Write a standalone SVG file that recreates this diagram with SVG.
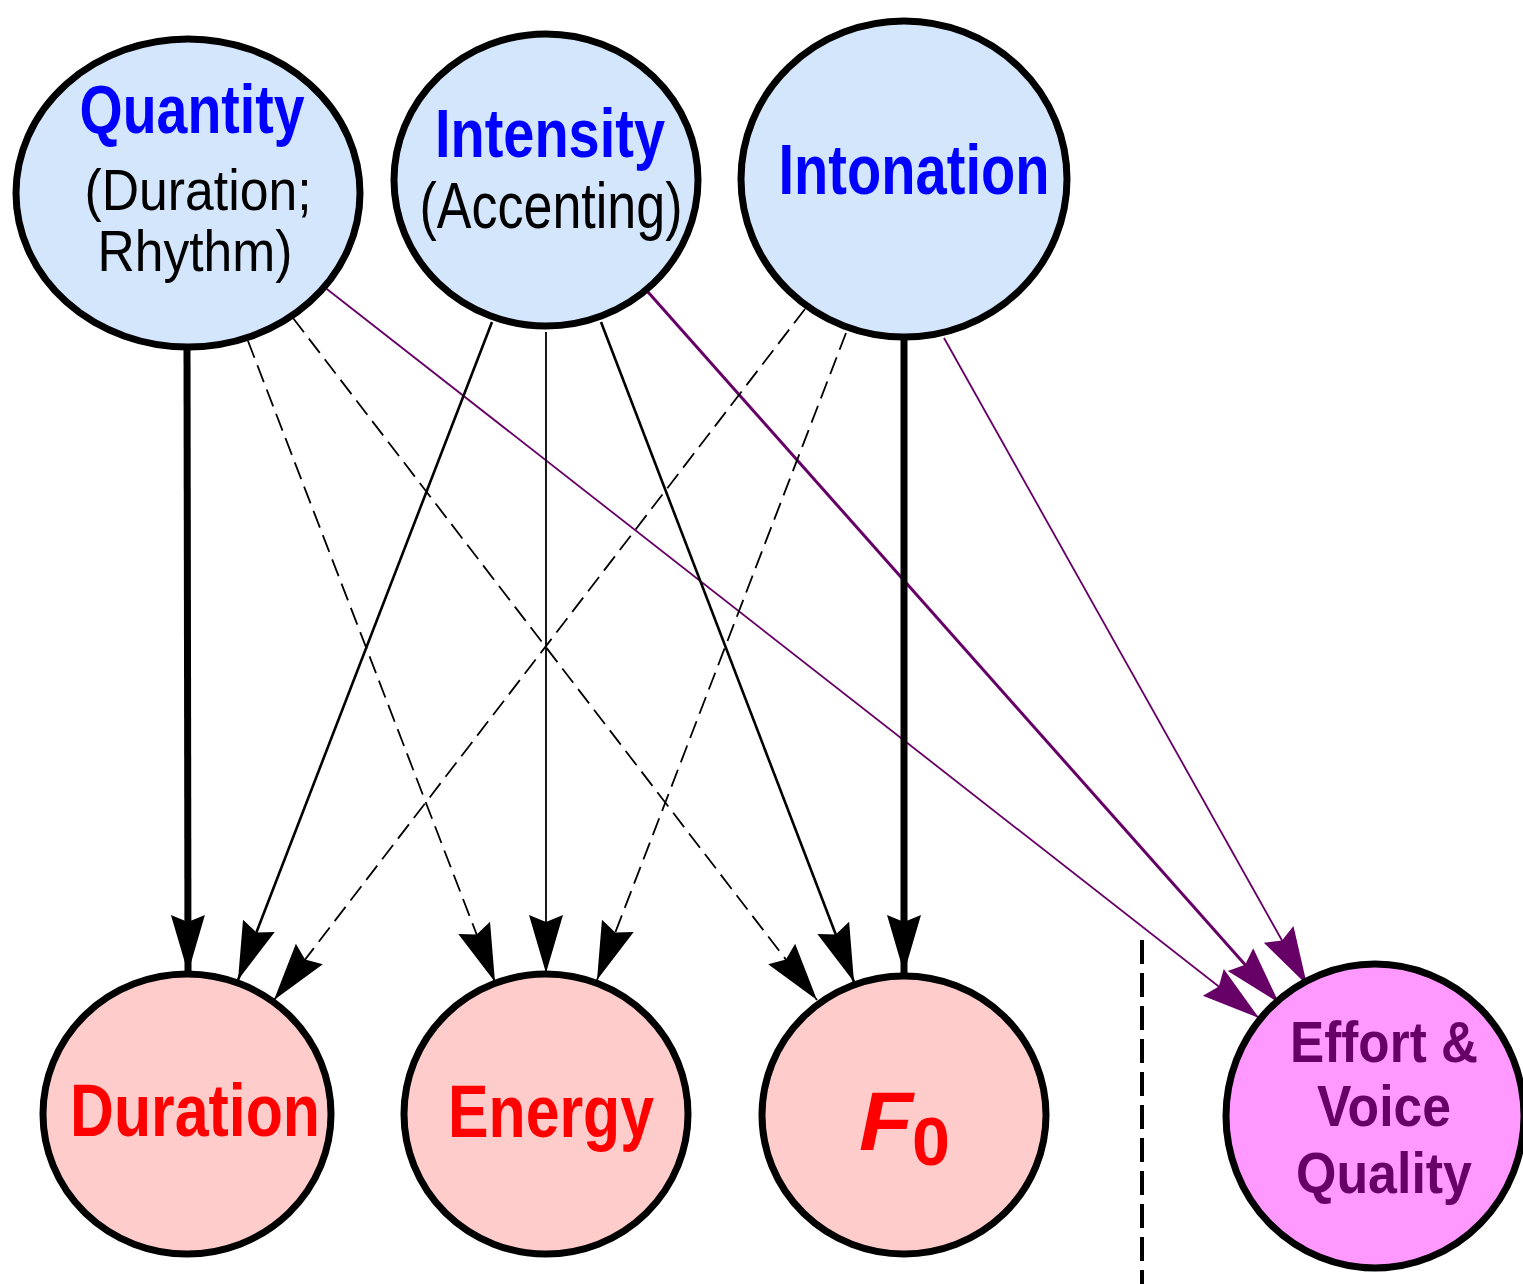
<svg xmlns="http://www.w3.org/2000/svg" width="1523" height="1284" viewBox="0 0 1523 1284">
<style>
.node{stroke:#000;stroke-width:7}
.top{fill:#d4e6fc}
.bot{fill:#ffcccc}
.eff{fill:#ff99ff}
text{font-family:"Liberation Sans Narrow","Liberation Sans",Arial,sans-serif;text-anchor:middle}
.b{font-weight:bold}
.blue{fill:#0000ff}
.red{fill:#ff0000}
.pur{fill:#660066}
.blk{fill:#000}
.e{fill:none;stroke:#000}
.p{fill:none;stroke:#660066}
.dash{stroke-dasharray:18 8}
</style>
<defs>
<marker id="ak" markerUnits="userSpaceOnUse" viewBox="-60 -18 60 36" refX="0" refY="0" markerWidth="60" markerHeight="36" orient="auto">
<path d="M0,0 L-58,-17 L-51,0 L-58,17 Z" fill="#000"/>
</marker>
<marker id="ap" markerUnits="userSpaceOnUse" viewBox="-60 -18 60 36" refX="0" refY="0" markerWidth="60" markerHeight="36" orient="auto">
<path d="M0,0 L-58,-17 L-51,0 L-58,17 Z" fill="#660066"/>
</marker>
</defs>
<rect width="1523" height="1284" fill="#fff"/>
<g id="connectors">
<line class="e" x1="187" y1="343" x2="188" y2="973" stroke-width="7" marker-end="url(#ak)"/>
<line class="e dash" x1="248" y1="341" x2="495" y2="982" stroke-width="1.8" marker-end="url(#ak)"/>
<line class="e dash" x1="293" y1="318" x2="817" y2="1000" stroke-width="1.8" marker-end="url(#ak)"/>
<line class="p" x1="323" y1="286" x2="1259" y2="1018" stroke-width="1.8" marker-end="url(#ap)"/>
<line class="e" x1="492" y1="322" x2="238" y2="980" stroke-width="2.6" marker-end="url(#ak)"/>
<line class="e" x1="546" y1="332" x2="546" y2="973" stroke-width="1.8" marker-end="url(#ak)"/>
<line class="e" x1="601" y1="322" x2="854" y2="982" stroke-width="2.6" marker-end="url(#ak)"/>
<line class="p" x1="648" y1="292" x2="1279" y2="1003" stroke-width="3" marker-end="url(#ap)"/>
<line class="e dash" x1="805" y1="309" x2="274" y2="1000" stroke-width="1.8" marker-end="url(#ak)"/>
<line class="e dash" x1="846" y1="333" x2="597" y2="980" stroke-width="1.8" marker-end="url(#ak)"/>
<line class="e" x1="904" y1="335" x2="904" y2="973" stroke-width="7" marker-end="url(#ak)"/>
<line class="p" x1="944" y1="338" x2="1307" y2="985" stroke-width="1.8" marker-end="url(#ap)"/>
<line class="e" x1="1142" y1="940" x2="1142" y2="1284" stroke-width="4" stroke-dasharray="24 9"/>
</g>
<g id="quantity">
<ellipse class="node top" cx="188" cy="193" rx="172" ry="154"/>
<text class="b blue" x="192" y="133" font-size="68" textLength="225" lengthAdjust="spacingAndGlyphs">Quantity</text>
<text class="blk" x="198" y="210" font-size="58" textLength="227" lengthAdjust="spacingAndGlyphs">(Duration;</text>
<text class="blk" x="195" y="271" font-size="58" textLength="195" lengthAdjust="spacingAndGlyphs">Rhythm)</text>
</g>
<g id="intensity">
<ellipse class="node top" cx="546" cy="180" rx="152" ry="146"/>
<text class="b blue" x="550" y="157" font-size="69" textLength="230" lengthAdjust="spacingAndGlyphs">Intensity</text>
<text class="blk" x="551" y="228" font-size="64" textLength="263" lengthAdjust="spacingAndGlyphs">(Accenting)</text>
</g>
<g id="intonation">
<ellipse class="node top" cx="904" cy="179" rx="163" ry="158"/>
<text class="b blue" x="914" y="194" font-size="70" textLength="271" lengthAdjust="spacingAndGlyphs">Intonation</text>
</g>
<g id="duration">
<ellipse class="node bot" cx="187" cy="1114" rx="144" ry="140"/>
<text class="b red" x="195" y="1136" font-size="74" textLength="250" lengthAdjust="spacingAndGlyphs">Duration</text>
</g>
<g id="energy">
<ellipse class="node bot" cx="546" cy="1114" rx="142" ry="140"/>
<text class="b red" x="551" y="1137" font-size="74" textLength="206" lengthAdjust="spacingAndGlyphs">Energy</text>
</g>
<g id="f0">
<ellipse class="node bot" cx="904" cy="1115" rx="142" ry="139"/>
<text class="b red" x="886" y="1150" font-size="84" font-style="italic" textLength="54" lengthAdjust="spacingAndGlyphs">F</text>
<text class="b red" x="931" y="1165" font-size="68" textLength="38" lengthAdjust="spacingAndGlyphs">0</text>
</g>
<g id="effort">
<ellipse class="node eff" cx="1375" cy="1116" rx="149" ry="152"/>
<text class="b pur" x="1384" y="1062" font-size="58" textLength="188" lengthAdjust="spacingAndGlyphs">Effort &amp;</text>
<text class="b pur" x="1384" y="1126" font-size="58" textLength="134" lengthAdjust="spacingAndGlyphs">Voice</text>
<text class="b pur" x="1384" y="1193" font-size="58" textLength="176" lengthAdjust="spacingAndGlyphs">Quality</text>
</g>
</svg>
